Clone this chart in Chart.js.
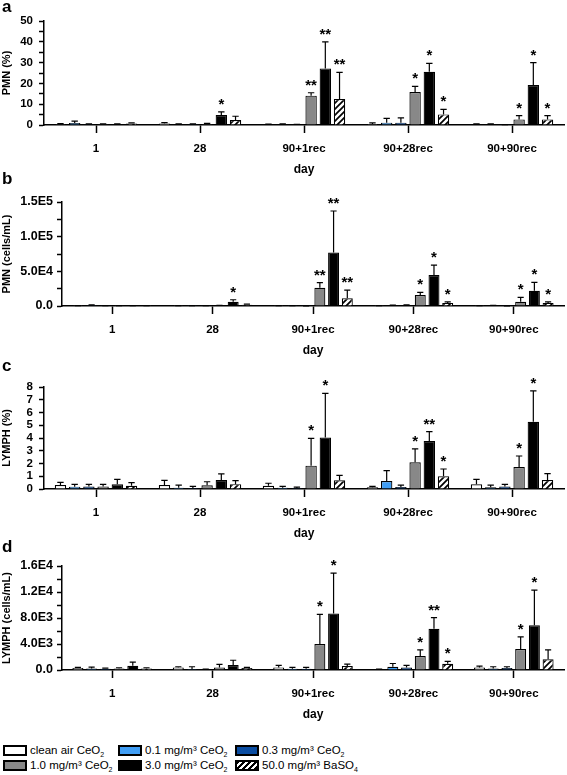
<!DOCTYPE html>
<html>
<head>
<meta charset="utf-8">
<script src="https://cdn.jsdelivr.net/npm/chart.js@4.4.0/dist/chart.umd.min.js"></script>
<style>
  body { margin: 0; background: #fff; width: 567px; height: 775px; position: relative; overflow: hidden;
         font-family: "Liberation Sans", Arial, sans-serif; color: #000; }
  .panel { position: absolute; left: 0; width: 567px; }
  .tag { position: absolute; left: 2px; font-weight: bold; font-size: 17px; line-height: 17px; }
  .leg { position: absolute; font-size: 11.5px; line-height: 11px; white-space: nowrap; color: #000; }
  .sw { position: absolute; width: 20px; height: 7px; border: 2px solid #000; }
  .leg sub { font-size: 7px; vertical-align: -3px; line-height: 0; }
</style>
</head>
<body>
<div class="panel" id="wa" style="top:0px;height:177px"><canvas id="chartA"></canvas></div>
<div class="panel" id="wb" style="top:172px;height:186px"><canvas id="chartB"></canvas></div>
<div class="panel" id="wc" style="top:357px;height:184px"><canvas id="chartC"></canvas></div>
<div class="panel" id="wd" style="top:540px;height:182px"><canvas id="chartD"></canvas></div>

<div class="tag" style="top:-2px">a</div>
<div class="tag" style="top:170px">b</div>
<div class="tag" style="top:357px">c</div>
<div class="tag" style="top:538px">d</div>

<div id="legend"></div>

<script>
"use strict";

const days = ["1", "28", "90+1rec", "90+28rec", "90+90rec"];
const seriesNames = ["clean air CeO2", "0.1 mg/m³ CeO2", "0.3 mg/m³ CeO2",
  "1.0 mg/m³ CeO2", "3.0 mg/m³ CeO2", "50.0 mg/m³ BaSO4"];
const seriesColors = ["#ffffff", "#409ef5", "#0b4da2", "#888888", "#000000", "hatch"];

// panel a: PMN (%)  rows = series, columns = days
const pmnPctMean = [
  [0.4, 0.7, 0.2, 0.5, 0.3],
  [1.0, 0.3, 0.3, 1.1, 0.3],
  [0.4, 0.4, 0.2, 1.1, 0.1],
  [0.4, 0.5, 14.1, 15.9, 2.7],
  [0.3, 4.8, 27.2, 25.6, 19.2],
  [0.7, 2.4, 12.5, 5.1, 2.7],
];
const pmnPctErr = [
  [0.3, 0.4, 0.2, 0.5, 0.2],
  [0.9, 0.2, 0.2, 2.1, 0.2],
  [0.2, 0.2, 0.1, 2.3, 0.1],
  [0.2, 0.3, 1.4, 2.7, 1.8],
  [0.2, 1.5, 12.8, 4.0, 10.8],
  [0.3, 1.8, 12.8, 2.4, 1.8],
];
const pmnPctSig = [
  ["", "", "", "", ""],
  ["", "", "", "", ""],
  ["", "", "", "", ""],
  ["", "", "**", "*", "*"],
  ["", "*", "**", "*", "*"],
  ["", "", "**", "*", "*"],
];

// panel b: PMN (cells/mL)
const pmnCellMean = [
  [300, 300, 300, 300, 300],
  [1200, 300, 300, 800, 500],
  [300, 300, 200, 1000, 200],
  [300, 500, 26400, 15900, 6200],
  [300, 6200, 77000, 44700, 22000],
  [300, 1800, 11000, 4500, 4500],
];
const pmnCellErr = [
  [200, 200, 200, 200, 200],
  [500, 200, 200, 500, 300],
  [200, 200, 100, 500, 100],
  [200, 300, 7200, 3800, 6300],
  [200, 2800, 60000, 14300, 12000],
  [200, 800, 12000, 1500, 1500],
];
const pmnCellSig = [
  ["", "", "", "", ""],
  ["", "", "", "", ""],
  ["", "", "", "", ""],
  ["", "", "**", "*", "*"],
  ["", "*", "**", "*", "*"],
  ["", "", "**", "*", "*"],
];

// panel c: LYMPH (%)
const lymPctMean = [
  [0.31, 0.31, 0.25, 0.13, 0.37],
  [0.18, 0.1, 0.1, 0.63, 0.13],
  [0.2, 0.08, 0.07, 0.15, 0.2],
  [0.2, 0.3, 1.83, 2.09, 1.73],
  [0.37, 0.7, 4.03, 3.76, 5.28],
  [0.25, 0.38, 0.68, 1.0, 0.7],
];
const lymPctErr = [
  [0.21, 0.37, 0.2, 0.07, 0.39],
  [0.19, 0.2, 0.1, 0.81, 0.17],
  [0.17, 0.12, 0.08, 0.15, 0.17],
  [0.17, 0.27, 2.14, 1.05, 0.86],
  [0.39, 0.48, 3.47, 0.74, 2.42],
  [0.25, 0.27, 0.39, 0.57, 0.5],
];
const lymPctSig = [
  ["", "", "", "", ""],
  ["", "", "", "", ""],
  ["", "", "", "", ""],
  ["", "", "*", "*", "*"],
  ["", "", "*", "**", "*"],
  ["", "", "", "*", ""],
];

// panel d: LYMPH (cells/mL)
const lymCellMean = [
  [300, 400, 400, 100, 400],
  [250, 150, 200, 500, 250],
  [200, 100, 200, 400, 300],
  [250, 400, 4000, 2150, 3230],
  [660, 770, 8700, 6350, 6870],
  [250, 300, 600, 970, 1640],
];
const lymCellErr = [
  [100, 100, 300, 50, 200],
  [200, 350, 200, 500, 250],
  [100, 50, 200, 300, 200],
  [100, 480, 4560, 950, 1870],
  [540, 730, 6200, 1700, 5430],
  [100, 100, 300, 370, 1460],
];
const lymCellSig = [
  ["", "", "", "", ""],
  ["", "", "", "", ""],
  ["", "", "", "", ""],
  ["", "", "*", "*", "*"],
  ["", "", "*", "**", "*"],
  ["", "", "", "*", ""],
];

const FONT = '"Liberation Sans", Arial, sans-serif';

function makeHatch() {
  const c = document.createElement("canvas");
  c.width = 6; c.height = 6;
  const g = c.getContext("2d");
  g.fillStyle = "#fff";
  g.fillRect(0, 0, 6, 6);
  g.strokeStyle = "#000";
  g.lineWidth = 1.7;
  g.beginPath();
  g.moveTo(-1, 7); g.lineTo(7, -1);
  g.moveTo(-4, 4); g.lineTo(4, -4);
  g.moveTo(2, 10); g.lineTo(10, 2);
  g.stroke();
  return g.createPattern(c, "repeat");
}
const hatch = makeHatch();

const sci = (v) => (v === 0 ? "0.0" : v.toExponential(1).replace("e+", "E"));

// error bars (upper only) + significance stars
const errorBars = {
  id: "errorBars",
  afterDatasetsDraw(chart) {
    const ctx = chart.ctx;
    const y = chart.scales.y;
    ctx.save();
    ctx.strokeStyle = "#000";
    ctx.lineWidth = 1.2;
    ctx.fillStyle = "#000";
    ctx.font = "bold 15px " + FONT;
    ctx.textAlign = "center";
    chart.data.datasets.forEach((ds, i) => {
      chart.getDatasetMeta(i).data.forEach((bar, j) => {
        const top = y.getPixelForValue(ds.data[j] + ds.errs[j]);
        const cap = bar.width * 0.28;
        ctx.beginPath();
        ctx.moveTo(bar.x, bar.y);
        ctx.lineTo(bar.x, top);
        ctx.moveTo(bar.x - cap, top);
        ctx.lineTo(bar.x + cap, top);
        ctx.stroke();
        if (ds.stars[j]) ctx.fillText(ds.stars[j], bar.x, top - 3);
      });
    });
    ctx.restore();
  },
};

function buildChart(id, cfg) {
  const datasets = seriesNames.map((name, i) => ({
    label: name,
    data: cfg.mean[i],
    errs: cfg.err[i],
    stars: cfg.sig[i],
    backgroundColor: seriesColors[i] === "hatch" ? hatch : seriesColors[i],
    borderColor: "#000",
    borderWidth: 1.2,
    barPercentage: 0.8,
    categoryPercentage: 0.82,
  }));

  new Chart(document.getElementById(id), {
    type: "bar",
    data: { labels: days, datasets: datasets },
    options: {
      responsive: true,
      maintainAspectRatio: false,
      animation: false,
      layout: { padding: { top: cfg.padTop, right: 3, bottom: 0, left: 0 } },
      plugins: { legend: { display: false }, tooltip: { enabled: false } },
      scales: {
        x: {
          grid: { display: true, drawOnChartArea: false, offset: false, tickLength: 8, color: "#000", tickWidth: 1.5 },
          border: { display: true, color: "#000", width: 1.5 },
          ticks: { color: "#000", padding: 9, font: { family: FONT, size: 11.5, weight: "bold" } },
          title: { display: true, text: "day", color: "#000", padding: 0, font: { family: FONT, size: 12, weight: "bold" } },
          afterFit: (s) => { s.height = 52; },
        },
        y: {
          min: 0,
          max: cfg.max,
          grid: { display: true, drawOnChartArea: false, tickLength: 5, color: "#000", tickWidth: 1.5 },
          border: { display: true, color: "#000", width: 1.5 },
          ticks: {
            stepSize: cfg.step,
            autoSkip: false,
            maxTicksLimit: 100,
            color: "#000",
            padding: cfg.tickPad,
            font: { family: FONT, size: cfg.tickSize, weight: "bold" },
            callback: cfg.fmt,
          },
          title: { display: true, text: cfg.yTitle, color: "#000", padding: 0, font: { family: FONT, size: 11, weight: "bold" } },
          afterFit: (s) => { s.width = cfg.axisX; },
        },
      },
    },
    plugins: [errorBars],
  });
}

buildChart("chartA", {
  mean: pmnPctMean, err: pmnPctErr, sig: pmnPctSig,
  max: 50, step: 5, padTop: 21, axisX: 44, tickPad: 6, tickSize: 11.5, yTitle: "PMN (%)",
  fmt: (v) => (v % 10 === 0 ? String(v) : ""),
});
buildChart("chartB", {
  mean: pmnCellMean, err: pmnCellErr, sig: pmnCellSig,
  max: 150000, step: 25000, padTop: 30, axisX: 62, tickPad: 4, tickSize: 12.5, yTitle: "PMN (cells/mL)",
  fmt: (v) => (v % 50000 === 0 ? sci(v) : ""),
});
buildChart("chartC", {
  mean: lymPctMean, err: lymPctErr, sig: lymPctSig,
  max: 8, step: 1, padTop: 30, axisX: 44, tickPad: 6, tickSize: 11.5, yTitle: "LYMPH (%)",
  fmt: (v) => String(v),
});
buildChart("chartD", {
  mean: lymCellMean, err: lymCellErr, sig: lymCellSig,
  max: 16000, step: 2000, padTop: 26, axisX: 62, tickPad: 4, tickSize: 12.5, yTitle: "LYMPH (cells/mL)",
  fmt: (v) => (v % 4000 === 0 ? sci(v) : ""),
});

// legend, 3 columns x 2 rows
const legendCols = [3, 118, 235];
const legendRows = [745, 760];
const legendHtml = [
  "clean air CeO<sub>2</sub>", "0.1 mg/m³ CeO<sub>2</sub>", "0.3 mg/m³ CeO<sub>2</sub>",
  "1.0 mg/m³ CeO<sub>2</sub>", "3.0 mg/m³ CeO<sub>2</sub>", "50.0 mg/m³ BaSO<sub>4</sub>",
];
const legend = document.getElementById("legend");
seriesNames.forEach((name, i) => {
  const x = legendCols[i % 3];
  const y = legendRows[Math.floor(i / 3)];
  const sw = document.createElement("div");
  sw.className = "sw";
  sw.style.left = x + "px";
  sw.style.top = y + "px";
  sw.style.background = seriesColors[i] === "hatch"
    ? "repeating-linear-gradient(135deg, #000 0 1.6px, #fff 1.6px 4.2px)"
    : seriesColors[i];
  legend.appendChild(sw);
  const t = document.createElement("div");
  t.className = "leg";
  t.style.left = (x + 27) + "px";
  t.style.top = y + "px";
  t.innerHTML = legendHtml[i];
  legend.appendChild(t);
});
</script>
</body>
</html>
